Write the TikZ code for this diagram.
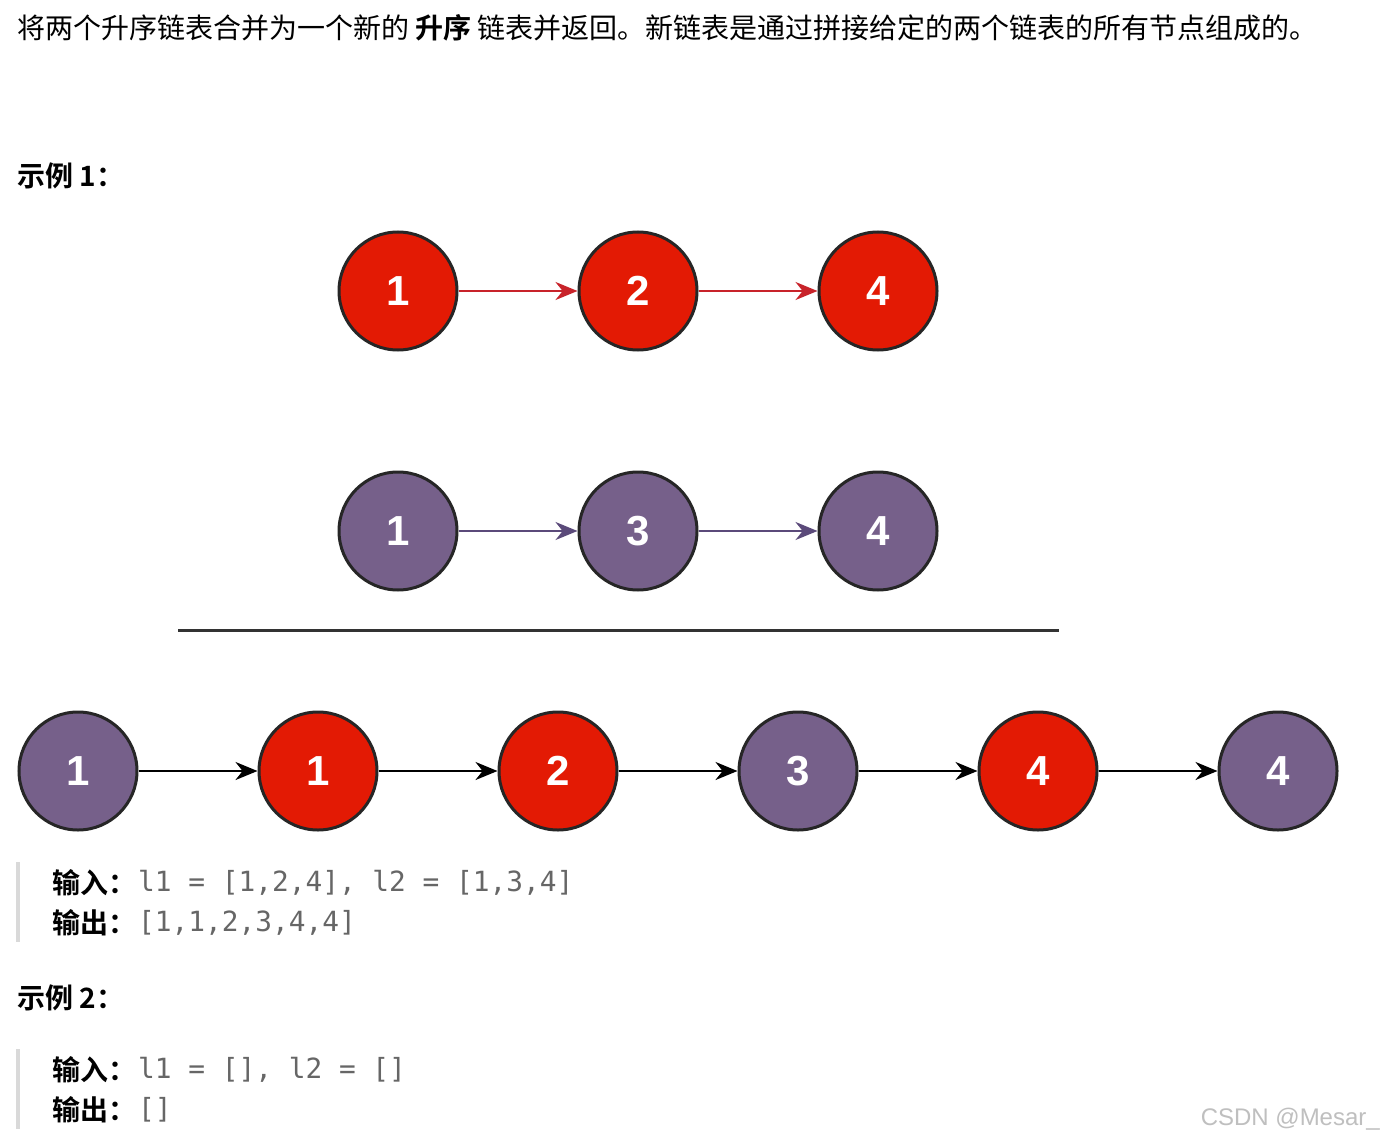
\documentclass[tikz,border=0pt]{standalone}
\usepackage{fontspec}
\usetikzlibrary{arrows.meta}
\newfontfamily\cjk{Noto Sans CJK SC}
\newfontfamily\cjkb{Noto Sans CJK SC Bold}
\newfontfamily\numf{Liberation Sans}
\setmonofont{DejaVu Sans Mono}
\definecolor{rd}{HTML}{E31A04}
\definecolor{pu}{HTML}{76608A}
\definecolor{rdl}{HTML}{C8232A}
\definecolor{pul}{HTML}{5B4A7A}
\definecolor{cg}{HTML}{666666}
\begin{document}
\begin{tikzpicture}[x=1pt,y=-1pt,
 ln/.style={circle,draw=black!85,line width=3pt,minimum size=118pt,inner sep=0pt,text=white,font=\numf\bfseries\fontsize{42}{42}\selectfont},
 rn/.style={ln,fill=rd},
 pn/.style={ln,fill=pu},
 ar/.style={line width=2pt,-{Stealth[length=22pt,width=18pt]}},
 tx/.style={anchor=west,inner sep=0pt,font=\cjk\fontsize{28}{28}\selectfont},
 cd/.style={anchor=west,inner sep=0pt,text=cg,font=\ttfamily\fontsize{27.8}{28}\selectfont}]
\useasboundingbox[fill=white] (0,0) rectangle (1384,1142);
\node[tx] (t1) at (17,28) {将两个升序链表合并为一个新的 {\cjkb 升序} 链表并返回。新链表是通过拼接给定的两个链表的所有节点组成的。};
\node[tx] (e1) at (17,176) {\cjkb 示例 1：};
\node[rn] (a1) at (398,291) {1};
\node[rn] (a2) at (638,291) {2};
\node[rn] (a3) at (878,291) {4};
\draw[ar,rdl] (a1) -- (a2); \draw[ar,rdl] (a2) -- (a3);
\node[pn] (b1) at (398,531) {1};
\node[pn] (b2) at (638,531) {3};
\node[pn] (b3) at (878,531) {4};
\draw[ar,pul] (b1) -- (b2); \draw[ar,pul] (b2) -- (b3);
\coordinate (l1) at (178,630); \coordinate (l2) at (1059,630);
\draw[line width=3pt,black!80] (l1) -- (l2);
\node[pn] (c1) at (78,771) {1};
\node[rn] (c2) at (318,771) {1};
\node[rn] (c3) at (558,771) {2};
\node[pn] (c4) at (798,771) {3};
\node[rn] (c5) at (1038,771) {4};
\node[pn] (c6) at (1278,771) {4};
\foreach \a/\b in {c1/c2,c2/c3,c3/c4,c4/c5,c5/c6} \draw[ar,black,line width=2.4pt] (\a) -- (\b);
\coordinate (g1) at (18,862); \coordinate (g2) at (18,942);
\draw[line width=3.5pt,black!15] (g1) -- (g2);
\node[tx] (i1) at (52,883) {\cjkb 输入：};
\node[cd] (i1c) at (138,883) {l1 = [1,2,4], l2 = [1,3,4]};
\node[tx] (o1) at (52,923) {\cjkb 输出：};
\node[cd] (o1c) at (138,923) {[1,1,2,3,4,4]};
\node[tx] (e2) at (17,998) {\cjkb 示例 2：};
\coordinate (h1) at (18,1049); \coordinate (h2) at (18,1129);
\draw[line width=3.5pt,black!15] (h1) -- (h2);
\node[tx] (i2) at (52,1070) {\cjkb 输入：};
\node[cd] (i2c) at (138,1070) {l1 = [], l2 = []};
\node[tx] (o2) at (52,1110) {\cjkb 输出：};
\node[cd] (o2c) at (138,1110) {[]};
\node[anchor=east,inner sep=0pt,text=black!25,font=\numf\fontsize{24}{24}\selectfont] (w) at (1380,1119) {CSDN @Mesar\_};
\end{tikzpicture}
\end{document}
